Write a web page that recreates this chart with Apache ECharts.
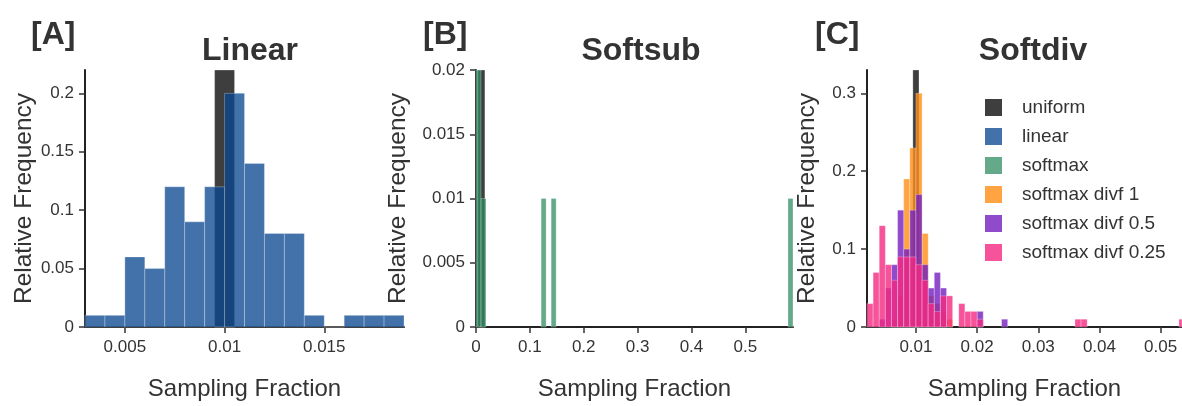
<!DOCTYPE html>
<html>
<head>
<meta charset="utf-8">
<script src="https://cdn.jsdelivr.net/npm/echarts@6/dist/echarts.min.js"></script>
<style>
  html, body { margin: 0; padding: 0; background: #fff; }
  #main { width: 1182px; height: 406px; }
</style>
</head>
<body>
<div id="main"></div>
<script>
// ---- data ----
// [A] Linear: bins of width 0.001
var linearStarts = [0.003, 0.004, 0.005, 0.006, 0.007, 0.008, 0.009, 0.010, 0.011, 0.012, 0.013, 0.014, 0.015, 0.016, 0.017, 0.018];
var linearFreq   = [0.01, 0.01, 0.06, 0.05, 0.12, 0.09, 0.12, 0.20, 0.14, 0.08, 0.08, 0.01, 0, 0.01, 0.01, 0.01];
var uniformA = [0.0095, 0.0105, 1.0];

// [B] Softsub: bins of width 0.0093
var softmaxStarts = [0, 0.0093, 0.1209, 0.1395, 0.5792];
var softmaxFreq   = [0.95, 0.01, 0.01, 0.01, 0.01];
var uniformB = [0.0035, 0.0165, 1.0];

// [C] Softdiv: bins of width 0.001
var uniformC = [0.0095, 0.0105, 1.0];
var divf1Starts  = [0.006, 0.007, 0.008, 0.009, 0.010, 0.011, 0.012, 0.013, 0.014, 0.015];
var divf1Freq    = [0.01, 0.04, 0.19, 0.23, 0.30, 0.12, 0.04, 0.03, 0.02, 0.01];
var divf05Starts = [0.004, 0.005, 0.006, 0.007, 0.008, 0.009, 0.010, 0.011, 0.012, 0.013, 0.014, 0.020, 0.024];
var divf05Freq   = [0.01, 0.05, 0.08, 0.15, 0.10, 0.15, 0.17, 0.08, 0.05, 0.07, 0.05, 0.02, 0.01];
var divf025Starts = [0.002, 0.003, 0.004, 0.005, 0.006, 0.007, 0.008, 0.009, 0.010, 0.011, 0.012, 0.013, 0.014, 0.015, 0.017, 0.018, 0.019, 0.020, 0.036, 0.037, 0.053];
var divf025Freq   = [0.03, 0.07, 0.13, 0.08, 0.06, 0.09, 0.09, 0.09, 0.08, 0.06, 0.03, 0.02, 0.04, 0.04, 0.03, 0.02, 0.02, 0.01, 0.01, 0.01, 0.01];

var legendNames = ['uniform', 'linear', 'softmax', 'softmax divf 1', 'softmax divf 0.5', 'softmax divf 0.25'];

var colors = {
    uniform: 'rgba(30,30,30,0.86)',
    linear: 'rgba(10,70,143,0.77)',
    softmax: 'rgba(50,140,100,0.75)',
    divf1: 'rgba(255,140,20,0.8)',
    divf05: 'rgba(115,30,190,0.8)',
    divf025: 'rgba(245,40,130,0.8)'
};

var font = "'Liberation Sans', Arial, sans-serif";
var ink = '#333';

function toBins(starts, width, freqs) {
    var out = [];
    for (var i = 0; i < starts.length; i++) {
        out.push([starts[i], starts[i] + width, freqs[i]]);
    }
    return out;
}

// draw one histogram bar through the axis scales
function histItem(params, api) {
    var p0 = api.coord([api.value(0), 0]);
    var p1 = api.coord([api.value(1), api.value(2)]);
    var cs = params.coordSys;
    var rect = echarts.graphic.clipRectByRect(
        {x: p0[0], y: p1[1], width: p1[0] - p0[0], height: p0[1] - p1[1]},
        {x: cs.x, y: cs.y, width: cs.width, height: cs.height});
    if (!rect) return;
    return {
        type: 'rect',
        shape: rect,
        style: {fill: api.visual('color'), stroke: 'rgba(255,255,255,0.35)', lineWidth: 0.8}
    };
}

function hist(name, color, idx, bins) {
    return {
        type: 'custom', name: name, xAxisIndex: idx, yAxisIndex: idx,
        renderItem: histItem, itemStyle: {color: color},
        encode: {x: [0, 1], y: 2}, data: bins, silent: true
    };
}

function xAxisFor(idx, min, max, ticks) {
    return {
        type: 'value', gridIndex: idx, min: min, max: max,
        name: 'Sampling Fraction', nameLocation: 'middle', nameGap: 50,
        nameTextStyle: {fontSize: 24, color: ink, fontFamily: font},
        axisLine: {show: true, onZero: false, lineStyle: {color: '#222', width: 2}},
        axisTick: {show: true, length: 6, customValues: ticks, lineStyle: {color: '#333', width: 1.5}},
        axisLabel: {fontSize: 17, color: ink, fontFamily: font, margin: 12, customValues: ticks},
        splitLine: {show: false}
    };
}

function yAxisFor(idx, max, ticks, gap) {
    return {
        type: 'value', gridIndex: idx, min: 0, max: max,
        name: 'Relative Frequency', nameLocation: 'middle', nameGap: gap, nameRotate: 90,
        nameTextStyle: {fontSize: 24.5, color: ink, fontFamily: font},
        axisLine: {show: true, onZero: false, lineStyle: {color: '#222', width: 2}},
        axisTick: {show: true, length: 6, customValues: ticks, lineStyle: {color: '#333', width: 1.5}},
        axisLabel: {fontSize: 17, color: ink, fontFamily: font, margin: 11, customValues: ticks},
        splitLine: {show: false}
    };
}

function label(text, x, y, size, align) {
    return {
        text: text, left: x, top: y, textAlign: align,
        textStyle: {fontSize: size, fontWeight: 'bold', color: ink, fontFamily: font}
    };
}

var myChart = echarts.init(document.getElementById('main'));

var option = {
    animation: false,
    backgroundColor: '#fff',
    title: [
        label('[A]', 26, 14, 32, 'left'),
        label('Linear', 245, 30, 32, 'center'),
        label('[B]', 418, 14, 32, 'left'),
        label('Softsub', 636, 30, 32, 'center'),
        label('[C]', 810, 14, 32, 'left'),
        label('Softdiv', 1028, 30, 32, 'center')
    ],
    legend: {
        orient: 'vertical', left: 980, top: 93,
        data: legendNames, selectedMode: false,
        icon: 'rect', itemWidth: 17, itemHeight: 17, itemGap: 10,
        textStyle: {fontSize: 19, color: ink, fontFamily: font, padding: [0, 0, 0, 15]}
    },
    grid: [
        {left: 85, top: 70, width: 319, height: 258},
        {left: 476, top: 70, width: 317, height: 258},
        {left: 867, top: 70, width: 315, height: 258}
    ],
    xAxis: [
        xAxisFor(0, 0.003, 0.019, [0.005, 0.01, 0.015]),
        xAxisFor(1, 0, 0.5885, [0, 0.1, 0.2, 0.3, 0.4, 0.5]),
        xAxisFor(2, 0.002, 0.0535, [0.01, 0.02, 0.03, 0.04, 0.05])
    ],
    yAxis: [
        yAxisFor(0, 0.22, [0, 0.05, 0.1, 0.15, 0.2], 48),
        yAxisFor(1, 0.02, [0, 0.005, 0.01, 0.015, 0.02], 65),
        yAxisFor(2, 0.33, [0, 0.1, 0.2, 0.3], 47)
    ],
    series: [
        hist('uniform', colors.uniform, 0, [uniformA]),
        hist('linear', colors.linear, 0, toBins(linearStarts, 0.001, linearFreq)),
        hist('uniform', colors.uniform, 1, [uniformB]),
        hist('softmax', colors.softmax, 1, toBins(softmaxStarts, 0.0093, softmaxFreq)),
        hist('uniform', colors.uniform, 2, [uniformC]),
        hist('softmax divf 1', colors.divf1, 2, toBins(divf1Starts, 0.001, divf1Freq)),
        hist('softmax divf 0.5', colors.divf05, 2, toBins(divf05Starts, 0.001, divf05Freq)),
        hist('softmax divf 0.25', colors.divf025, 2, toBins(divf025Starts, 0.001, divf025Freq))
    ]
};

myChart.setOption(option);
</script>
</body>
</html>
